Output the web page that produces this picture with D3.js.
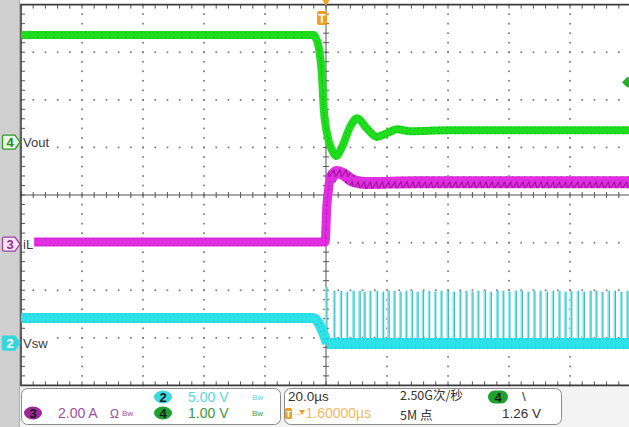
<!DOCTYPE html>
<html><head><meta charset="utf-8">
<script src="https://cdn.jsdelivr.net/npm/d3@7/dist/d3.min.js"></script>
<style>
html,body{margin:0;padding:0;background:#fff;}
svg{display:block;}
text{font-family:"Liberation Sans Narrow","Liberation Sans",Arial,sans-serif;}
</style></head>
<body>
<svg id="c" width="629" height="427"></svg>
<script>
// ---- data (time in µs, values in channel units) ----
const timeRange = [-100, 100];          // 20 µs/div, 10 divisions
const divRange = [-4, 4];               // 8 vertical divisions

// Ch4 Vout (V), 1 V/div, marker at +1.11 div
const voutT = [-100, -75, -50, -25, -10, -4, -3.3, -2.6, -1.3, -0.7, 0.3, 2.0, 3.3, 5.2, 7.9, 10.2, 13.4, 16.7, 20.0, 23.3, 27.5, 40, 60, 80, 100];
const voutV = [2.25, 2.25, 2.25, 2.25, 2.25, 2.25, 2.18, 2.06, 1.37, 0.67, 0.19, -0.17, -0.29, -0.11, 0.32, 0.50, 0.29, 0.11, 0.19, 0.27, 0.23, 0.25, 0.25, 0.25, 0.25];

// Ch3 iL (A), 2 A/div, marker at -1.03 div
const ilT = [-100, -0.3, 0.3, 0.7, 1.3, 3.6, 5.6, 8.9, 12.8, 30, 60, 100];
const ilA = [0.08, 0.08, 1.64, 2.14, 2.69, 3.03, 2.94, 2.65, 2.56, 2.6, 2.6, 2.6];

// Ch2 Vsw (V), 5 V/div, marker at -3.11 div
const vswT = [-100, -4.3, -2.6, -1.3, -0.3, 0.3, 100];
const vswV = [2.63, 2.63, 2.2, 1.37, 0.53, -0.05, -0.05];
const pulseT = [0.0, 2.6, 4.8, 6.8, 8.9, 10.9, 12.5, 14.4, 16.6, 18.6, 20.4, 22.3, 24.3, 26.2, 28.1, 29.9,
  31.7, 33.7, 35.7, 37.7, 39.8, 41.8, 43.9, 45.9, 47.9, 49.8, 52.0, 53.9, 56.1, 58.0, 60.0, 62.1, 64.1,
  66.2, 68.2, 70.2, 72.3, 74.3, 76.4, 78.4, 80.3, 82.5, 84.4, 86.6, 88.5, 90.5, 92.6, 94.6, 96.7, 98.7];
const pulseTop = [5.9, 5.5, 5.5, 5.4, 5.5, 5.5, 5.4, 5.5, 5.5, 5.4, 5.5, 5.5, 5.4, 5.5, 5.5, 5.4,
  5.5, 5.5, 5.4, 5.5, 5.5, 5.4, 5.5, 5.5, 5.4, 5.5, 5.5, 5.4, 5.5, 5.5, 5.4, 5.5, 5.5,
  5.4, 5.5, 5.5, 5.4, 5.5, 5.5, 5.4, 5.5, 5.5, 5.4, 5.5, 5.5, 5.4, 5.5, 5.5, 5.4, 5.5];

const channels = [
  {id: "4", name: "Vout", pos: 1.11, scale: 1},
  {id: "3", name: "iL",   pos: -1.03, scale: 2},
  {id: "2", name: "Vsw",  pos: -3.11, scale: 5}
];
const trigLevel = 1.26; // V on ch4
const infoLeft = [
  {badge: "2", text: "5.00 V", row: 0},
  {badge: "4", text: "1.00 V", row: 1},
  {badge: "3", text: "2.00 A", row: 1}
];

// ---- layout ----
const svg = d3.select("#c");
const L = 21, R = 631, T = 4.6, B = 385.4;
const x = d3.scaleLinear().domain(timeRange).range([L, R]);
const y = d3.scaleLinear().domain(divRange).range([B, T]);
const ch = Object.fromEntries(channels.map(c => [c.id, c]));
const yc = (c, v) => y(c.pos + v / c.scale);

// backgrounds
svg.append("rect").attr("width", 629).attr("height", 427).attr("fill", "#f3f3f3");
svg.append("rect").attr("x", L).attr("y", 0).attr("width", 629 - L).attr("height", B).attr("fill", "#fff");
svg.append("rect").attr("x", 0).attr("y", 0).attr("width", 19).attr("height", 427).attr("fill", "#cfcfcf");
svg.append("line").attr("x1", 19.5).attr("x2", 19.5).attr("y1", 0).attr("y2", 427).attr("stroke", "#b0b0b0");

const defs = svg.append("defs");
defs.append("clipPath").attr("id", "plot").append("rect")
  .attr("x", L).attr("y", T).attr("width", R - L).attr("height", B - T);
const zig = defs.append("pattern").attr("id", "zig").attr("patternUnits", "userSpaceOnUse")
  .attr("width", 6.1).attr("height", 12);
zig.append("rect").attr("width", 6.1).attr("height", 12).attr("fill", "#e02ee0");
zig.append("path").attr("d", "M0,9 L4.5,2 L6.1,9").attr("fill", "none").attr("stroke", "#9a109a").attr("stroke-width", 1.1);

// ---- grid ----
const g = svg.append("g");
const minorX = d3.range(0, 51).map(i => timeRange[0] + i * 4);
const minorY = d3.range(0, 41).map(i => divRange[0] + i * 0.2);
const majorX = d3.range(-80, 81, 20).filter(v => v !== 0);
const majorY = [-3, -2, -1, 1, 2, 3];
majorX.forEach(mx => minorY.forEach(my =>
  g.append("rect").attr("x", x(mx) - 0.8).attr("y", y(my) - 0.8).attr("width", 1.7).attr("height", 1.7).attr("fill", "#7a7a7a")));
majorY.forEach(my => minorX.forEach(mx =>
  g.append("rect").attr("x", x(mx) - 0.8).attr("y", y(my) - 0.8).attr("width", 1.7).attr("height", 1.7).attr("fill", "#7a7a7a")));
// center axes
g.append("line").attr("x1", L).attr("x2", R).attr("y1", y(0)).attr("y2", y(0)).attr("stroke", "#555").attr("stroke-width", 1);
g.append("line").attr("x1", x(0)).attr("x2", x(0)).attr("y1", T).attr("y2", B).attr("stroke", "#555").attr("stroke-width", 1);
minorX.forEach(mx => g.append("line").attr("x1", x(mx)).attr("x2", x(mx)).attr("y1", y(0) - 3).attr("y2", y(0) + 3).attr("stroke", "#555"));
minorY.forEach(my => g.append("line").attr("x1", x(0) - 3).attr("x2", x(0) + 3).attr("y1", y(my)).attr("y2", y(my)).attr("stroke", "#555"));
// border ticks
minorX.forEach(mx => {
  g.append("line").attr("x1", x(mx)).attr("x2", x(mx)).attr("y1", T).attr("y2", T + 4).attr("stroke", "#555");
  g.append("line").attr("x1", x(mx)).attr("x2", x(mx)).attr("y1", B - 4).attr("y2", B).attr("stroke", "#555");
});
minorY.forEach(my => g.append("line").attr("x1", L).attr("x2", L + 4).attr("y1", y(my)).attr("y2", y(my)).attr("stroke", "#555"));
g.append("path").attr("d", `M${R},${T}H${L}V${B}H${R}`).attr("fill", "none").attr("stroke", "#3c3c3c").attr("stroke-width", 1.6);

// ---- traces ----
const tr = svg.append("g").attr("clip-path", "url(#plot)");
function band(tArr, vArr, c, color, width, dark, curve) {
  const pts = tArr.map((t, i) => [t, vArr[i]]);
  const ln = d3.line().x(d => x(d[0])).y(d => yc(c, d[1])).curve(curve || d3.curveMonotoneX);
  tr.append("path").attr("d", ln(pts)).attr("fill", "none").attr("stroke", color)
    .attr("stroke-width", width).attr("stroke-linejoin", "round");
  [-width / 2 + 1, width / 2 - 1].forEach(off =>
    tr.append("path").attr("d", ln(pts)).attr("transform", `translate(0,${off})`).attr("fill", "none")
      .attr("stroke", dark).attr("stroke-width", 0.8).attr("stroke-dasharray", "1.5,2.5,0.8,3.2").attr("opacity", 0.7));
  return ln;
}
// Vsw pulses
const c2 = ch["2"];
pulseT.forEach((t, i) => {
  tr.append("line").attr("x1", x(t)).attr("x2", x(t)).attr("y1", yc(c2, 0)).attr("y2", yc(c2, pulseTop[i]))
    .attr("stroke", "#86eef2").attr("stroke-width", 2.2);
  tr.append("line").attr("x1", x(t) + 1).attr("x2", x(t) + 1).attr("y1", yc(c2, 0)).attr("y2", yc(c2, pulseTop[i]))
    .attr("stroke", "#2a9ea8").attr("stroke-width", 0.8);
});
// Vsw baseline
band(vswT.filter(t => t <= 0.3), vswV.filter((v, i) => vswT[i] <= 0.3), c2, "#2ee2ea", 10, "#0c9aa2", d3.curveMonotoneX);
band(vswT.filter(t => t >= 0.3), vswV.filter((v, i) => vswT[i] >= 0.3), c2, "#2ee2ea", 11, "#0c9aa2");
// iL
const c3 = ch["3"];
const ilPre = ilT.map((t, i) => [t, ilA[i]]).filter(d => d[0] <= 3.6);
const ilPost = ilT.map((t, i) => [t, ilA[i]]).filter(d => d[0] >= 1.3);
band(ilPre.map(d => d[0]), ilPre.map(d => d[1]), c3, "#e02ee0", 9, "#8e0c8e");
const lnIL = d3.line().x(d => x(d[0])).y(d => yc(c3, d[1])).curve(d3.curveMonotoneX);
tr.append("path").attr("d", lnIL(ilPost)).attr("fill", "none").attr("stroke", "url(#zig)").attr("stroke-width", 12);
// Vout
const c4 = ch["4"];
band(voutT, voutV, c4, "#1ede1e", 8, "#0b8a0b", d3.curveMonotoneX);

// ---- channel markers ----
const mk = svg.append("g");
const mkStyle = {"4": {fill: "#e6f7e6", stroke: "#2a9a2a", txt: "#1f8a1f"},
                 "3": {fill: "#f4e4f4", stroke: "#a040a0", txt: "#9a2a9a"},
                 "2": {fill: "#36d6de", stroke: "#36d6de", txt: "#ffffff"}};
channels.forEach(c => {
  const yy = y(c.pos), s = mkStyle[c.id];
  const lg = mk.append("g");
  const bg = lg.append("rect").attr("x", 22).attr("y", yy - 7).attr("height", 14).attr("fill", "#fff");
  const lab = lg.append("text").attr("x", 23).attr("y", yy + 4.5).attr("font-size", 13).attr("fill", "#3a3a3a").text(c.name);
  bg.attr("width", lab.node().getComputedTextLength() + 2);
  lg.append("path").attr("d", `M4,${yy - 7}H15L20,${yy}L15,${yy + 7}H4Q2.5,${yy + 7} 2.5,${yy + 5.5}V${yy - 5.5}Q2.5,${yy - 7} 4,${yy - 7}Z`)
    .attr("fill", s.fill).attr("stroke", s.stroke).attr("stroke-width", 1.3);
  lg.append("text").attr("x", 10).attr("y", yy + 4.5).attr("text-anchor", "middle").attr("font-size", 13)
    .attr("fill", s.txt).attr("font-weight", "bold").text(c.id);
});
// trigger level marker (right)
const ty = yc(c4, trigLevel);
mk.append("path").attr("d", `M622,${ty}L627,${ty - 5}L629,${ty - 5}V${ty + 5}H627Z`).attr("fill", "#22b022");
// trigger position markers (top)
mk.append("path").attr("d", `M${x(0) - 3.5},0H${x(0) + 3.5}L${x(0)},6Z`).attr("fill", "#f0a020");
mk.append("rect").attr("x", x(0) - 9).attr("y", 11).attr("width", 10).attr("height", 14).attr("rx", 2).attr("fill", "#f0a020");
mk.append("text").attr("x", x(0) - 4).attr("y", 22.5).attr("text-anchor", "middle").attr("font-size", 12).attr("font-weight", "bold").attr("fill", "#fff").text("T");

// ---- info boxes ----
const ib = svg.append("g");
ib.append("rect").attr("x", 21.5).attr("y", 388.5).attr("width", 259).attr("height", 36).attr("rx", 6).attr("fill", "#fff").attr("stroke", "#8a8a8a");
ib.append("rect").attr("x", 284.5).attr("y", 388.5).attr("width", 277).attr("height", 36).attr("rx", 6).attr("fill", "#fff").attr("stroke", "#8a8a8a");
const badgeFill = {"2": "#3ed8e0", "4": "#20a030", "3": "#9a2a9a"};
const textFill = {"2": "#5ed4e2", "4": "#3a9a3a", "3": "#a04ea0"};
const badgeX = {"2": 163, "4": 163, "3": 33};
infoLeft.forEach(d => {
  const by = d.row ? 413 : 397, bx = badgeX[d.badge];
  ib.append("ellipse").attr("cx", bx).attr("cy", by).attr("rx", 9).attr("ry", 6.5).attr("fill", badgeFill[d.badge]);
  ib.append("text").attr("x", bx).attr("y", by + 4.5).attr("text-anchor", "middle").attr("font-size", 13).attr("font-weight", "bold").attr("fill", "#1a1a1a").text(d.badge);
  const tx = d.badge === "3" ? 58 : 188;
  ib.append("text").attr("x", tx).attr("y", by + 5).attr("font-size", 14).attr("fill", textFill[d.badge]).text(d.text);
  const ix = d.badge === "3" ? 122 : 252;
  ib.append("text").attr("x", ix).attr("y", by + 3).attr("font-size", 8).attr("fill", textFill[d.badge]).text("Bw");
});
ib.append("text").attr("x", 110).attr("y", 418).attr("font-size", 12).attr("fill", "#a04ea0").text("Ω");
const cjk = "'Liberation Sans Narrow','Noto Sans CJK SC',sans-serif";
ib.append("text").attr("x", 288).attr("y", 401).attr("font-size", 13.5).attr("fill", "#333").text("20.0µs");
ib.append("text").attr("x", 400).attr("y", 400).attr("font-size", 12.5).attr("fill", "#333").style("font-family", cjk).text("2.50G次/秒");
ib.append("rect").attr("x", 488).attr("y", 390.5).attr("width", 20).attr("height", 13).attr("rx", 6.5).attr("fill", "#20a030");
ib.append("text").attr("x", 498).attr("y", 401.5).attr("text-anchor", "middle").attr("font-size", 13).attr("font-weight", "bold").attr("fill", "#1a1a1a").text("4");
ib.append("text").attr("x", 522).attr("y", 401).attr("font-size", 13.5).attr("fill", "#333").text("\\");
ib.append("rect").attr("x", 285).attr("y", 408).attr("width", 7).attr("height", 11).attr("rx", 1.5).attr("fill", "#f0a020");
ib.append("text").attr("x", 288.5).attr("y", 417).attr("text-anchor", "middle").attr("font-size", 9).attr("font-weight", "bold").attr("fill", "#fff").text("T");
ib.append("text").attr("x", 293).attr("y", 416).attr("font-size", 8).attr("fill", "#f0a020").text("→");
ib.append("path").attr("d", "M299,410H305L302,415Z").attr("fill", "#f0a020");
ib.append("text").attr("x", 305.5).attr("y", 418).attr("font-size", 14).attr("fill", "#f3b860").text("1.60000µs");
ib.append("text").attr("x", 400).attr("y", 419.5).attr("font-size", 12.5).attr("fill", "#333").style("font-family", cjk).text("5M 点");
ib.append("text").attr("x", 502).attr("y", 418).attr("font-size", 13.5).attr("fill", "#333").text("1.26 V");
</script>
</body></html>
